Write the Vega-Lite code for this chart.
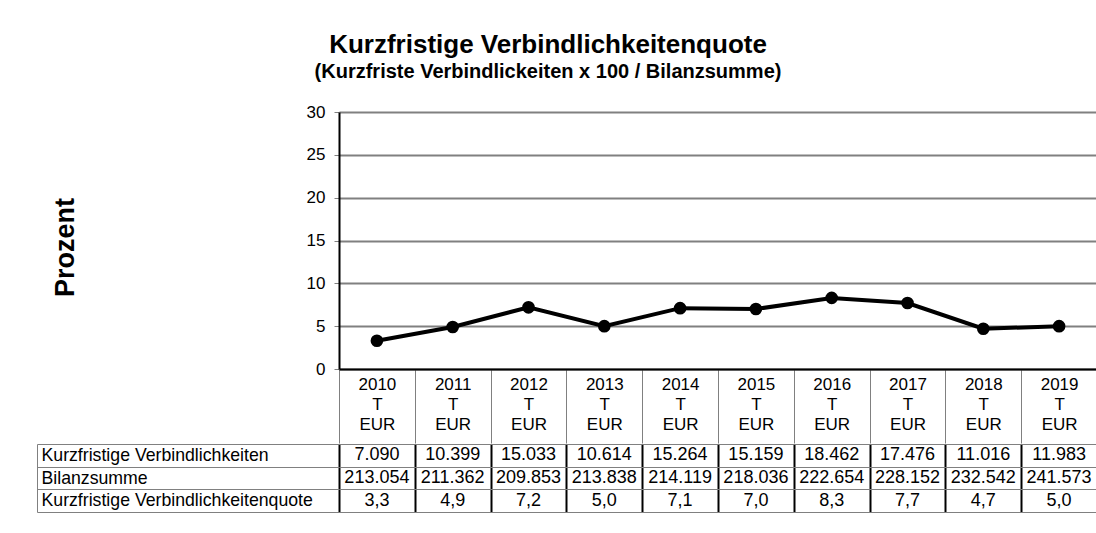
{
  "$schema": "https://vega.github.io/schema/vega-lite/v6.json",
  "padding": {"left": 36, "top": 32, "right": 0, "bottom": 0},
  "background": "white",
  "title": {
    "text": "Kurzfristige Verbindlichkeitenquote",
    "subtitle": "(Kurzfriste Verbindlickeiten x 100 / Bilanzsumme)",
    "anchor": "middle",
    "frame": "bounds",
    "dx": -19,
    "offset": 21,
    "font": "Liberation Sans",
    "fontSize": 26,
    "fontWeight": "bold",
    "color": "black",
    "subtitleFont": "Liberation Sans",
    "subtitleFontSize": 20,
    "subtitleFontWeight": "bold",
    "subtitleColor": "black",
    "subtitlePadding": 4
  },
  "spacing": -10,
  "datasets": {
    "main": [
      {"jahr": "2010", "quote": 3.3},
      {"jahr": "2011", "quote": 4.9},
      {"jahr": "2012", "quote": 7.2},
      {"jahr": "2013", "quote": 5.0},
      {"jahr": "2014", "quote": 7.1},
      {"jahr": "2015", "quote": 7.0},
      {"jahr": "2016", "quote": 8.3},
      {"jahr": "2017", "quote": 7.7},
      {"jahr": "2018", "quote": 4.7},
      {"jahr": "2019", "quote": 5.0}
    ],
    "table": [
      {"zeile": "Kurzfristige Verbindlichkeiten", "jahr": "2010", "wert": "7.090"},
      {"zeile": "Kurzfristige Verbindlichkeiten", "jahr": "2011", "wert": "10.399"},
      {"zeile": "Kurzfristige Verbindlichkeiten", "jahr": "2012", "wert": "15.033"},
      {"zeile": "Kurzfristige Verbindlichkeiten", "jahr": "2013", "wert": "10.614"},
      {"zeile": "Kurzfristige Verbindlichkeiten", "jahr": "2014", "wert": "15.264"},
      {"zeile": "Kurzfristige Verbindlichkeiten", "jahr": "2015", "wert": "15.159"},
      {"zeile": "Kurzfristige Verbindlichkeiten", "jahr": "2016", "wert": "18.462"},
      {"zeile": "Kurzfristige Verbindlichkeiten", "jahr": "2017", "wert": "17.476"},
      {"zeile": "Kurzfristige Verbindlichkeiten", "jahr": "2018", "wert": "11.016"},
      {"zeile": "Kurzfristige Verbindlichkeiten", "jahr": "2019", "wert": "11.983"},
      {"zeile": "Bilanzsumme", "jahr": "2010", "wert": "213.054"},
      {"zeile": "Bilanzsumme", "jahr": "2011", "wert": "211.362"},
      {"zeile": "Bilanzsumme", "jahr": "2012", "wert": "209.853"},
      {"zeile": "Bilanzsumme", "jahr": "2013", "wert": "213.838"},
      {"zeile": "Bilanzsumme", "jahr": "2014", "wert": "214.119"},
      {"zeile": "Bilanzsumme", "jahr": "2015", "wert": "218.036"},
      {"zeile": "Bilanzsumme", "jahr": "2016", "wert": "222.654"},
      {"zeile": "Bilanzsumme", "jahr": "2017", "wert": "228.152"},
      {"zeile": "Bilanzsumme", "jahr": "2018", "wert": "232.542"},
      {"zeile": "Bilanzsumme", "jahr": "2019", "wert": "241.573"},
      {"zeile": "Kurzfristige Verbindlichkeitenquote", "jahr": "2010", "wert": "3,3"},
      {"zeile": "Kurzfristige Verbindlichkeitenquote", "jahr": "2011", "wert": "4,9"},
      {"zeile": "Kurzfristige Verbindlichkeitenquote", "jahr": "2012", "wert": "7,2"},
      {"zeile": "Kurzfristige Verbindlichkeitenquote", "jahr": "2013", "wert": "5,0"},
      {"zeile": "Kurzfristige Verbindlichkeitenquote", "jahr": "2014", "wert": "7,1"},
      {"zeile": "Kurzfristige Verbindlichkeitenquote", "jahr": "2015", "wert": "7,0"},
      {"zeile": "Kurzfristige Verbindlichkeitenquote", "jahr": "2016", "wert": "8,3"},
      {"zeile": "Kurzfristige Verbindlichkeitenquote", "jahr": "2017", "wert": "7,7"},
      {"zeile": "Kurzfristige Verbindlichkeitenquote", "jahr": "2018", "wert": "4,7"},
      {"zeile": "Kurzfristige Verbindlichkeitenquote", "jahr": "2019", "wert": "5,0"}
    ]
  },
  "vconcat": [
    {
      "width": 758,
      "height": 257,
      "data": {"name": "main"},
      "encoding": {
        "x": {
          "field": "jahr",
          "type": "ordinal",
          "scale": {"type": "band", "paddingInner": 0, "paddingOuter": 0},
          "axis": {
            "title": null,
            "orient": "bottom",
            "tickBand": "extent",
            "tickSize": 74,
            "tickColor": "#808080",
            "tickWidth": 1,
            "labelPadding": -67,
            "labelAngle": 0,
            "labelExpr": "datum.label ? [datum.label, 'T', 'EUR'] : ''",
            "labelFontSize": 17,
            "labelLineHeight": 20,
            "labelColor": "black",
            "labelBaseline": "top",
            "domainColor": "black",
            "domainWidth": 2,
            "grid": false,
            "minExtent": 74,
            "maxExtent": 74
          }
        },
        "y": {
          "field": "quote",
          "type": "quantitative",
          "scale": {"domain": [0, 30], "nice": false},
          "axis": {
            "title": "Prozent",
            "titleFontSize": 27,
            "titleFontWeight": "bold",
            "titleColor": "black",
            "titlePadding": 227,
            "titleY": 135,
            "values": [0, 5, 10, 15, 20, 25, 30],
            "tickColor": "#808080",
            "tickSize": 5,
            "labelPadding": 9,
            "labelFontSize": 17,
            "labelColor": "black",
            "domainColor": "black",
            "domainWidth": 2,
            "grid": true,
            "gridColor": "#808080",
            "gridWidth": 2
          }
        }
      },
      "layer": [
        {"mark": {"type": "line", "color": "black", "strokeWidth": 4}},
        {"mark": {"type": "point", "filled": true, "color": "black", "opacity": 1, "size": 160}}
      ]
    },
    {
      "width": 758,
      "height": 68,
      "data": {"name": "table"},
      "layer": [
        {
          "mark": {"type": "text", "fontSize": 18, "color": "black"},
          "encoding": {
            "x": {
              "field": "jahr",
              "type": "ordinal",
              "scale": {"type": "band", "paddingInner": 0, "paddingOuter": 0},
              "axis": {
                "title": null,
                "orient": "bottom",
                "labels": false,
                "ticks": false,
                "domain": false,
                "grid": true,
                "gridColor": "black",
                "gridWidth": 2,
                "tickBand": "extent"
              }
            },
            "y": {
              "field": "zeile",
              "type": "nominal",
              "sort": ["Kurzfristige Verbindlichkeiten", "Bilanzsumme", "Kurzfristige Verbindlichkeitenquote"],
              "scale": {"type": "band", "paddingInner": 0, "paddingOuter": 0},
              "axis": {
                "title": null,
                "orient": "left",
                "tickBand": "extent",
                "tickSize": 302,
                "tickColor": "#808080",
                "tickWidth": 1,
                "labelAlign": "left",
                "labelPadding": -4,
                "labelLimit": 0,
                "labelFontSize": 17.7,
                "labelColor": "black",
                "domain": false,
                "grid": true,
                "gridColor": "#808080",
                "gridWidth": 1
              }
            },
            "text": {"field": "wert", "type": "nominal"}
          }
        },
        {
          "mark": {"type": "text", "opacity": 0},
          "encoding": {
            "y": {
              "field": "zeile",
              "type": "nominal",
              "sort": ["Kurzfristige Verbindlichkeiten", "Bilanzsumme", "Kurzfristige Verbindlichkeitenquote"],
              "axis": {
                "title": null,
                "orient": "left",
                "offset": 302,
                "labels": false,
                "ticks": false,
                "grid": false,
                "domain": true,
                "domainColor": "#808080",
                "domainWidth": 1
              }
            },
            "text": {"value": ""}
          }
        }
      ],
      "resolve": {"axis": {"y": "independent"}}
    }
  ],
  "config": {
    "font": "Liberation Sans",
    "view": {"stroke": null}
  }
}
